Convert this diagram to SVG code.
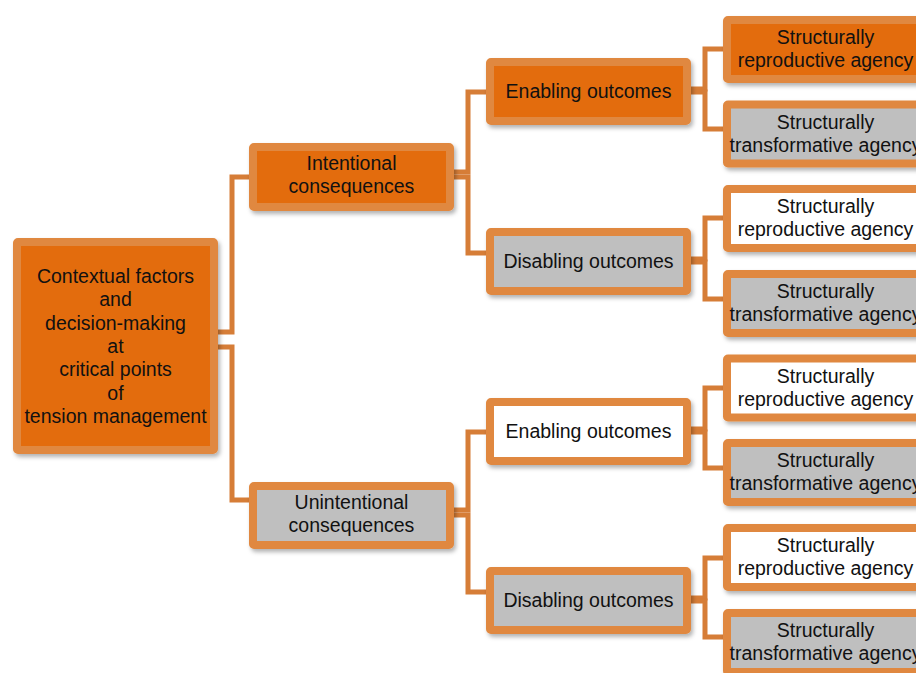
<svg xmlns="http://www.w3.org/2000/svg" width="916" height="673" viewBox="0 0 916 673">
<defs>
<filter id="sh" x="-10%" y="-10%" width="130%" height="140%">
<feDropShadow dx="2" dy="3" stdDeviation="2" flood-color="#000" flood-opacity="0.3"/>
</filter>
<style>
.box{stroke:#E0883F;stroke-width:8;filter:url(#sh)}
.o{fill:#E36C0A}
.g{fill:#BFBFBF}
.w{fill:#FFFFFF}
text{font-family:"Liberation Sans",Arial,sans-serif;font-size:19.5px;fill:#111;text-anchor:middle}
.con path{fill:none;stroke:#D67D37;stroke-width:5;stroke-linejoin:miter}
</style>
</defs>
<rect width="916" height="673" fill="#fff"/>
<g class="con" id="connectors">
<path d="M218,332 H232 V177 H249"/>
<path d="M218,347 H232 V500 H249"/>
<path d="M454,172 H468 V92 H486"/>
<path d="M454,177 H468 V253 H486"/>
<path d="M454,510 H468 V432 H486"/>
<path d="M454,515 H468 V592 H486"/>
<path d="M691,89 H705 V49 H723"/>
<path d="M691,92 H705 V129 H723"/>
<path d="M691,259 H705 V218 H723"/>
<path d="M691,262 H705 V299 H723"/>
<path d="M691,429 H705 V388 H723"/>
<path d="M691,432 H705 V468 H723"/>
<path d="M691,598 H705 V558 H723"/>
<path d="M691,601 H705 V637 H723"/>
</g>
<g id="root">
<rect class="box o" x="17" y="242" width="197" height="208" rx="1"/>
<text x="115.5" y="283">Contextual factors</text>
<text x="115.5" y="306.3">and</text>
<text x="115.5" y="329.7">decision-making</text>
<text x="115.5" y="353">at</text>
<text x="115.5" y="376.3">critical points</text>
<text x="115.5" y="399.7">of</text>
<text x="115.5" y="423">tension management</text>
</g>
<g id="intentional">
<rect class="box o" x="253" y="147" width="197" height="60" rx="1"/>
<text x="351.5" y="170">Intentional</text>
<text x="351.5" y="193.3">consequences</text>
</g>
<g id="unintentional">
<rect class="box g" x="253" y="486" width="197" height="59" rx="1"/>
<text x="351.5" y="509">Unintentional</text>
<text x="351.5" y="532.3">consequences</text>
</g>
<g id="enabling1">
<rect class="box o" x="490" y="62" width="197" height="59" rx="1"/>
<text x="588.5" y="98">Enabling outcomes</text>
</g>
<g id="disabling1">
<rect class="box g" x="490" y="232" width="197" height="59" rx="1"/>
<text x="588.5" y="268">Disabling outcomes</text>
</g>
<g id="enabling2">
<rect class="box w" x="490" y="402" width="197" height="59" rx="1"/>
<text x="588.5" y="438">Enabling outcomes</text>
</g>
<g id="disabling2">
<rect class="box g" x="490" y="571" width="197" height="59" rx="1"/>
<text x="588.5" y="607">Disabling outcomes</text>
</g>
<g id="leaf1">
<rect class="box o" x="727" y="20" width="197" height="59" rx="1"/>
<text x="825.5" y="44">Structurally</text>
<text x="825.5" y="67.3">reproductive agency</text>
</g>
<g id="leaf2">
<rect class="box g" x="727" y="104.5" width="197" height="59" rx="1"/>
<text x="825.5" y="128.5">Structurally</text>
<text x="825.5" y="151.8">transformative agency</text>
</g>
<g id="leaf3">
<rect class="box w" x="727" y="189" width="197" height="59" rx="1"/>
<text x="825.5" y="213">Structurally</text>
<text x="825.5" y="236.3">reproductive agency</text>
</g>
<g id="leaf4">
<rect class="box g" x="727" y="274" width="197" height="59" rx="1"/>
<text x="825.5" y="298">Structurally</text>
<text x="825.5" y="321.3">transformative agency</text>
</g>
<g id="leaf5">
<rect class="box w" x="727" y="358.5" width="197" height="59" rx="1"/>
<text x="825.5" y="382.5">Structurally</text>
<text x="825.5" y="405.8">reproductive agency</text>
</g>
<g id="leaf6">
<rect class="box g" x="727" y="443" width="197" height="59" rx="1"/>
<text x="825.5" y="467">Structurally</text>
<text x="825.5" y="490.3">transformative agency</text>
</g>
<g id="leaf7">
<rect class="box w" x="727" y="528" width="197" height="59" rx="1"/>
<text x="825.5" y="552">Structurally</text>
<text x="825.5" y="575.3">reproductive agency</text>
</g>
<g id="leaf8">
<rect class="box g" x="727" y="613" width="197" height="59" rx="1"/>
<text x="825.5" y="637">Structurally</text>
<text x="825.5" y="660.3">transformative agency</text>
</g>
</svg>
